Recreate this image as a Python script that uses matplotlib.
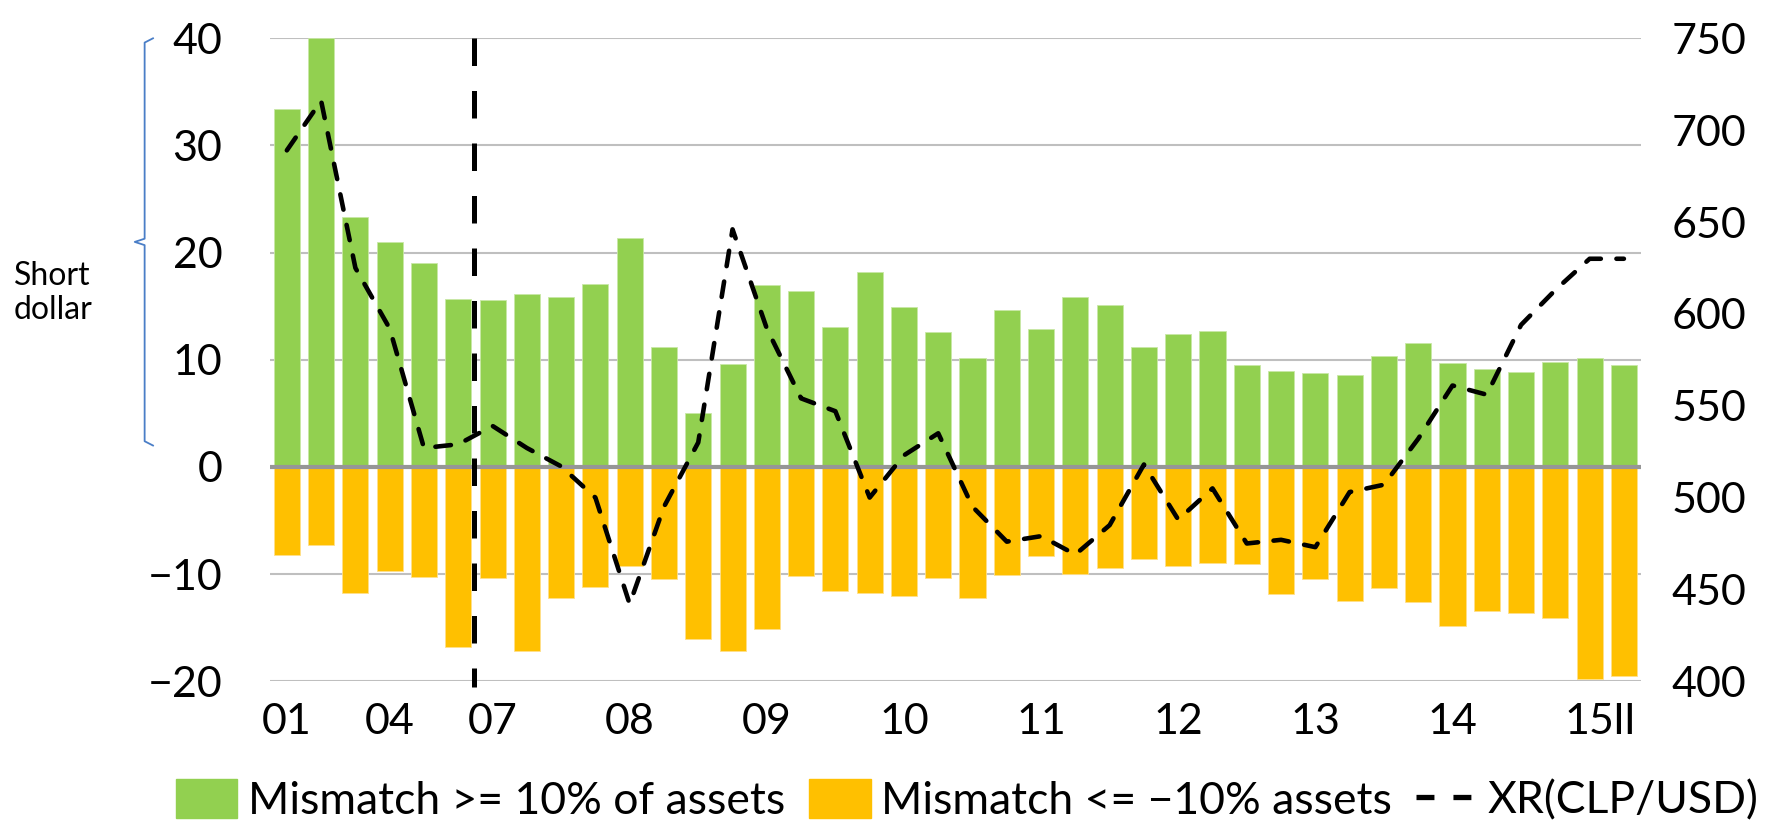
import matplotlib
matplotlib.use("Agg")
import matplotlib.pyplot as plt
from matplotlib.patches import Patch
from matplotlib.lines import Line2D
import numpy as np

# 2001-2006 annual, then quarterly from 2007 to 2015Q2
PERIODS = ["01", "", "", "04", "", "", "07", "", "", "", "08", "", "", "", "09", "", "", "",
           "10", "", "", "", "11", "", "", "", "12", "", "", "", "13", "", "", "", "14", "",
           "", "", "15", "II"]
LONG_SHARE = [33.4, 40.0, 23.3, 21.0, 19.0, 15.7, 15.6, 16.1, 15.9, 17.1,
              21.4, 11.2, 5.0, 9.6, 17.0, 16.4, 13.1, 18.2, 14.9, 12.6,
              10.2, 14.6, 12.9, 15.9, 15.1, 11.2, 12.4, 12.7, 9.5, 9.0,
              8.8, 8.6, 10.4, 11.6, 9.7, 9.1, 8.9, 9.8, 10.2, 9.5]
SHORT_SHARE = [-8.2, -7.3, -11.8, -9.7, -10.3, -16.8, -10.4, -17.2, -12.2, -11.2,
               -9.2, -10.5, -16.1, -17.2, -15.1, -10.2, -11.6, -11.8, -12.0, -10.4,
               -12.2, -10.1, -8.3, -10.0, -9.4, -8.6, -9.2, -9.0, -9.1, -11.9,
               -10.5, -12.5, -11.3, -12.6, -14.8, -13.4, -13.6, -14.1, -19.8, -19.5]
XR = [689, 716, 625, 592, 527, 529, 539, 527, 517, 500,
      442, 495, 530, 646, 592, 554, 547, 500, 523, 535,
      495, 476, 479, 469, 485, 518, 488, 505, 475, 477,
      473, 503, 507, 532, 561, 556, 594, 613, 630, 630]
BREAK_AT = 5.45  # annual -> quarterly switch

LEFT_TICKS = [-20, -10, 0, 10, 20, 30, 40]
RIGHT_TICKS = [400, 450, 500, 550, 600, 650, 700, 750]

GREEN = "#92D050"
ORANGE = "#FFC000"
FONT = ["Lato", "DejaVu Sans"]
FS = 31

plt.rcParams["font.family"] = FONT

fig = plt.figure(figsize=(17.72, 8.22), dpi=100)
ax = fig.add_axes([0.1522, 0.1712, 0.9261 - 0.1522, 0.9534 - 0.1712])
x = np.arange(len(PERIODS))

ax.bar(x, LONG_SHARE, width=0.76, color=GREEN, edgecolor="#c9e8a6", linewidth=0.6, zorder=2)
ax.bar(x, SHORT_SHARE, width=0.76, color=ORANGE, edgecolor="#ffe08a", linewidth=0.6, zorder=2)
ax.axhline(0, color="#969696", lw=3.0, zorder=3)
ax.plot([BREAK_AT, BREAK_AT], [40, -20.5], color="black", lw=3.6,
        dashes=(5.5, 5.0), zorder=4, clip_on=False)

ax.set_xlim(-0.5, len(PERIODS) - 0.5)
ax.set_ylim(-20, 40)
ax.set_yticks(LEFT_TICKS)
ax.set_yticklabels([f"{v}".replace("-", "\u2212") for v in LEFT_TICKS])
ax.set_xticks(x)
ax.set_xticklabels(PERIODS)
ax.yaxis.grid(True, color="#BFBFBF", lw=1.5)
ax.set_axisbelow(True)
ax.tick_params(axis="y", length=0, pad=34, labelsize=FS)
ax.tick_params(axis="x", length=0, pad=16, labelsize=FS)
for s in ax.spines.values():
    s.set_visible(False)

ax2 = ax.twinx()
ax2.plot(x, XR, color="black", lw=3.3, dashes=(3.4, 3.4), dash_capstyle="round", zorder=5)
ax2.set_ylim(400, 750)
ax2.set_yticks(RIGHT_TICKS)
ax2.tick_params(axis="y", length=0, pad=22, labelsize=FS)
for s in ax2.spines.values():
    s.set_visible(False)

# "Short dollar" brace on the left
yt = ax.get_yaxis_transform()
bx, bx_r, bx_l = -0.0912, -0.0851, -0.0984
ax.plot([bx_r, bx, bx, bx_l, bx, bx, bx_r], [40, 39.6, 21.3, 21.0, 20.7, 2.4, 2.0],
        color="#4A7EC7", lw=1.3, transform=yt, clip_on=False)
fig.text(13.5 / 1772, 1 - 293 / 822, "Short\ndollar", fontsize=23, va="center",
         ha="left", linespacing=1.2)

handles = [Patch(color=GREEN), Patch(color=ORANGE),
           Line2D([], [], color="black", lw=3.8, dashes=(3.4, 3.6))]
labels = ["Mismatch >= 10% of assets", "Mismatch <= \u221210% assets", "XR(CLP/USD)"]
fig.legend(handles, labels, loc="center left", bbox_to_anchor=(176 / 1772, 0.026), ncol=3,
           frameon=False, fontsize=32, handlelength=1.38, handleheight=0.95,
           handletextpad=0.23, columnspacing=0.55, borderpad=0, borderaxespad=0)

fig.savefig("out.png", dpi=100)
